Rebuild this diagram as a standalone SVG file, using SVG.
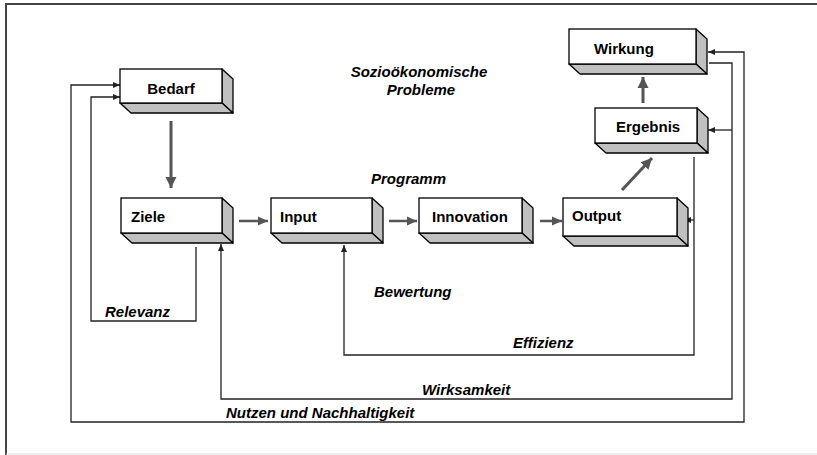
<svg xmlns="http://www.w3.org/2000/svg" width="817" height="455" viewBox="0 0 817 455">
<defs>
<style>
.face{fill:#fff;stroke:#000;stroke-width:1.3}
.side{fill:#c0c0c0;stroke:#000;stroke-width:1.3;stroke-linejoin:round}
.lbl{font-family:"Liberation Sans",Arial,sans-serif;font-weight:bold;font-size:15px;fill:#000}
.it{font-family:"Liberation Sans",Arial,sans-serif;font-weight:bold;font-style:italic;font-size:15px;fill:#000}
.fb{fill:none;stroke:#222;stroke-width:1.3}
.main{fill:none;stroke:#555;stroke-width:3}
.mainh{fill:none;stroke:#555;stroke-width:2.5}
</style>
<marker id="big" markerUnits="userSpaceOnUse" markerWidth="12" markerHeight="12" refX="11" refY="6" orient="auto"><path d="M0,0.5 L11,6 L0,11.5 z" fill="#555"/></marker>
<marker id="mid" markerUnits="userSpaceOnUse" markerWidth="11" markerHeight="10" refX="10" refY="5" orient="auto"><path d="M0,0.5 L10,5 L0,9.5 z" fill="#555"/></marker>
<marker id="sm" markerUnits="userSpaceOnUse" markerWidth="8" markerHeight="7" refX="7" refY="3.5" orient="auto-start-reverse"><path d="M0,0.5 L7,3.5 L0,6.5 z" fill="#222"/></marker>
</defs>
<rect width="817" height="455" fill="#fff"/>
<path d="M6,455 V4 H817" fill="none" stroke="#444" stroke-width="2"/>
<line x1="6" y1="454" x2="817" y2="454" stroke="#ddd" stroke-width="1"/>

<g id="connectors">
<line class="main" x1="171" y1="121" x2="171" y2="188" marker-end="url(#big)"/>
<line class="mainh" x1="239" y1="221" x2="268" y2="221" marker-end="url(#mid)"/>
<line class="mainh" x1="389" y1="221" x2="417" y2="221" marker-end="url(#mid)"/>
<line class="mainh" x1="540" y1="221" x2="562" y2="221" marker-end="url(#mid)"/>
<line class="main" x1="622" y1="190" x2="652" y2="158" marker-end="url(#big)"/>
<line class="main" x1="643" y1="103" x2="643" y2="77" marker-end="url(#big)"/>
<path class="fb" d="M196,247 V321 H91 V97 H120" marker-end="url(#sm)"/>
<path class="fb" d="M694,157 V355 H344 V245" marker-end="url(#sm)"/>
<path class="fb" d="M694,220 H684" marker-end="url(#sm)"/>
<path class="fb" d="M709,63 H732 V399 H221 V244" marker-end="url(#sm)"/>
<path class="fb" d="M732,130 H708" marker-end="url(#sm)"/>
<path class="fb" d="M120,85 H71 V422 H744 V52 H708" stroke="#444" stroke-width="1.8" marker-start="url(#sm)" marker-end="url(#sm)"/>
</g>

<g id="bedarf">
<polygon class="side" points="222,69 233,79 233,113 222,103"/>
<polygon class="side" points="120,103 222,103 233,113 131,113"/>
<rect class="face" x="120" y="69" width="102" height="34"/>
<text class="lbl" x="171" y="94" text-anchor="middle">Bedarf</text>
</g>
<g id="ziele">
<polygon class="side" points="222,198 233,208 233,243 222,233"/>
<polygon class="side" points="121,233 222,233 233,243 132,243"/>
<rect class="face" x="121" y="198" width="101" height="35"/>
<text class="lbl" x="131" y="222">Ziele</text>
</g>
<g id="input">
<polygon class="side" points="372,198 383,208 383,243 372,233"/>
<polygon class="side" points="271,233 372,233 383,243 282,243"/>
<rect class="face" x="271" y="198" width="101" height="35"/>
<text class="lbl" x="280" y="222">Input</text>
</g>
<g id="innovation">
<polygon class="side" points="522,198 533,208 533,243 522,233"/>
<polygon class="side" points="419,233 522,233 533,243 430,243"/>
<rect class="face" x="419" y="198" width="103" height="35"/>
<text class="lbl" x="432" y="222">Innovation</text>
</g>
<g id="output">
<polygon class="side" points="677,198 688,208 688,246 677,236"/>
<polygon class="side" points="563,236 677,236 688,246 574,246"/>
<rect class="face" x="563" y="198" width="114" height="38"/>
<text class="lbl" x="572" y="221">Output</text>
</g>
<g id="ergebnis">
<polygon class="side" points="697,108 708,118 708,153 697,143"/>
<polygon class="side" points="595,143 697,143 708,153 606,153"/>
<rect class="face" x="595" y="108" width="102" height="35"/>
<text class="lbl" x="616" y="132">Ergebnis</text>
</g>
<g id="wirkung">
<polygon class="side" points="696,29 707,39 707,74 696,64"/>
<polygon class="side" points="569,64 696,64 707,74 580,74"/>
<rect class="face" x="569" y="29" width="127" height="35"/>
<text class="lbl" x="594" y="54">Wirkung</text>
</g>

<g id="labels">
<text class="it" x="419" y="77" text-anchor="middle">Sozioökonomische</text>
<text class="it" x="421" y="95" text-anchor="middle">Probleme</text>
<text class="it" x="371" y="184">Programm</text>
<text class="it" x="374" y="297">Bewertung</text>
<text class="it" x="105" y="317">Relevanz</text>
<text class="it" x="513" y="348">Effizienz</text>
<text class="it" x="422" y="395">Wirksamkeit</text>
<text class="it" x="226" y="418">Nutzen und Nachhaltigkeit</text>
</g>
</svg>
